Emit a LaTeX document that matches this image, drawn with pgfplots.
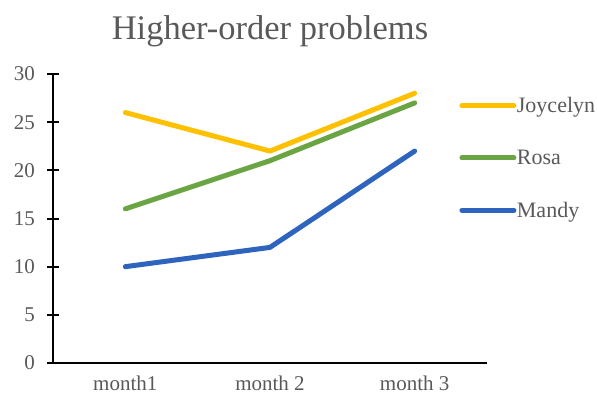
\documentclass[border=0pt]{standalone}
\usepackage{pgfplots}
\pgfplotsset{compat=1.18}
\usepackage{fontspec}
\setmainfont{Liberation Serif}
\definecolor{txt}{HTML}{595959}
\definecolor{cJ}{HTML}{FFC000}
\definecolor{cR}{HTML}{6AA443}
\definecolor{cM}{HTML}{2E64BE}
\begin{document}
\begin{tikzpicture}
\useasboundingbox (0,0) rectangle (597pt,397pt);
\node[text=txt, font=\fontsize{34.5}{40}\selectfont, anchor=base] at (270pt,397pt-40pt) {Higher-order problems};
\begin{axis}[
  at={(53pt,34pt)}, anchor=south west,
  scale only axis, width=434pt, height=289pt,
  xmin=-0.5, xmax=2.5, ymin=0, ymax=30,
  axis x line=bottom, axis y line=left,
  axis line style={-, line width=2pt, black},
  xtick={0,1,2}, xticklabels={month1,month 2,month 3},
  x tick style={draw=none},
  ytick={0,5,...,30},
  tick align=center, major tick length=12pt,
  y tick style={line width=2pt, black},
  ticklabel style={text=txt, font=\fontsize{21}{24}\selectfont},
  /pgf/number format/assume math mode=true,
  yticklabel style={anchor=east, inner sep=0pt, xshift=-12pt},
  xticklabel style={anchor=north, inner sep=0pt, yshift=-7pt},
  clip=false,
  legend style={draw=none, fill=none, at={(0.936,0.922)}, anchor=north west,
    font=\fontsize{22}{25}\selectfont, text=txt, row sep=35pt, inner sep=0pt,
    nodes={inner sep=0.5pt}},
  legend cell align=left,
  legend image code/.code={\draw[#1, line cap=round] (0pt,0pt) -- (52pt,0pt);},
  every axis plot/.append style={line width=5pt, line cap=round, line join=round, mark=none},
]
\addplot[cJ] coordinates {(0,26) (1,22) (2,28)};
\addlegendentry{Joycelyn}
\addplot[cR] coordinates {(0,16) (1,21) (2,27)};
\addlegendentry{Rosa}
\addplot[cM] coordinates {(0,10) (1,12) (2,22)};
\addlegendentry{Mandy}
\end{axis}
\end{tikzpicture}
\end{document}
